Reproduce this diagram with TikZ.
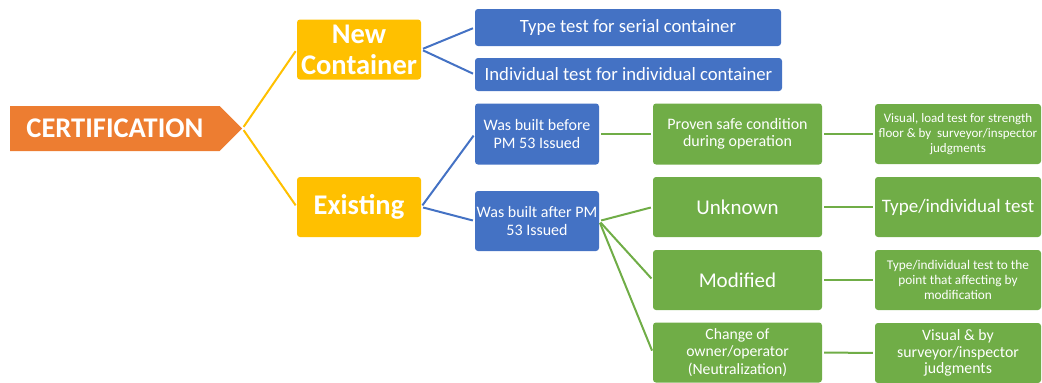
\documentclass[tikz,border=0pt]{standalone}
\usepackage{fontspec}
\setmainfont{Carlito}
\usetikzlibrary{shapes.symbols}
\definecolor{cblue}{HTML}{4472C4}
\definecolor{cgreen}{HTML}{70AD47}
\definecolor{cyellow}{HTML}{FFC000}
\definecolor{corange}{HTML}{ED7D31}
\newcommand{\fs}[2]{\fontsize{#1}{#2}\selectfont}
\tikzset{
  box/.style={rounded corners=3pt, text=white, inner sep=0pt, align=center, anchor=center},
  ybox/.style={box, fill=cyellow, minimum width=124pt, minimum height=60pt, font=\fs{28.5}{31}\bfseries},
  bbox/.style={box, fill=cblue, font=\fs{16}{17.5}},
  gbox/.style={box, fill=cgreen, minimum width=169pt, minimum height=60pt},
  rbox/.style={box, fill=cgreen, minimum width=166pt, minimum height=60pt},
  link/.style={line width=2pt, shorten <=2pt, shorten >=2pt},
}
\begin{document}
\begin{tikzpicture}[x=1pt,y=-1pt]
\useasboundingbox (0,0) rectangle (1042,383);
\node[shape=signal, signal to=east, signal pointer angle=90, fill=corange, text=white,
      minimum width=232pt, minimum height=45pt, inner sep=0pt, font=\fs{28.5}{31}\bfseries,
      anchor=west] (cert) at (10,128.5) {CERTIFICATION\hspace{8pt}};
\node[ybox] (newc) at (359,49.5) {New\\Container};
\node[ybox] (exist) at (359,207) {Existing};
\node[bbox, minimum width=306pt, minimum height=37pt, font=\fs{18.7}{21}] (type1) at (628,27.5) {Type test for serial container};
\node[bbox, minimum width=307pt, minimum height=33pt, font=\fs{18.7}{21}] (indiv) at (628.5,74.5) {Individual test for individual container};
\node[bbox, minimum width=124pt, minimum height=61pt] (before) at (537,134) {Was built before\\PM 53 Issued};
\node[bbox, minimum width=124pt, minimum height=60pt] (after) at (537,221) {Was built after PM\\53 Issued};
\node[gbox, minimum height=61pt, font=\fs{16}{17.5}] (proven) at (737.5,134) {Proven safe condition\\during operation};
\node[gbox, font=\fs{21}{24}] (unknown) at (737.5,207) {Unknown};
\node[gbox, font=\fs{21}{24}] (modified) at (737.5,280) {Modified};
\node[gbox, font=\fs{15.7}{17.5}] (change) at (737.5,352.5) {Change of\\owner/operator\\(Neutralization)};
\node[rbox, font=\fs{13}{14.7}] (r1) at (958,134) {Visual, load test for strength\\floor \& by~ surveyor/inspector\\judgments};
\node[rbox, font=\fs{19}{22}] (r2) at (958,207) {Type/individual test};
\node[rbox, font=\fs{13.3}{14.7}] (r3) at (958,280) {Type/individual test to the\\point that affecting by\\modification};
\node[rbox, font=\fs{15.8}{16.8}] (r4) at (958,353) {Visual \& by\\surveyor/inspector\\judgments};
\draw[link, cyellow] (cert.east) -- (newc.west);
\draw[link, cyellow] (cert.east) -- (exist.west);
\draw[link, cblue] (newc.east) -- (type1.west);
\draw[link, cblue] (newc.east) -- (indiv.west);
\draw[link, cblue] (exist.east) -- (before.west);
\draw[link, cblue] (exist.east) -- (after.west);
\draw[link, cgreen] (before.east) -- (proven.west);
\draw[link, cgreen] (after.east) -- (unknown.west);
\draw[link, cgreen] (after.east) -- (modified.west);
\draw[link, cgreen] (after.east) -- (change.west);
\draw[link, cgreen] (proven.east) -- (r1.west);
\draw[link, cgreen] (unknown.east) -- (r2.west);
\draw[link, cgreen] (modified.east) -- (r3.west);
\draw[link, cgreen] (change.east) -- (r4.west);
\end{tikzpicture}
\end{document}
